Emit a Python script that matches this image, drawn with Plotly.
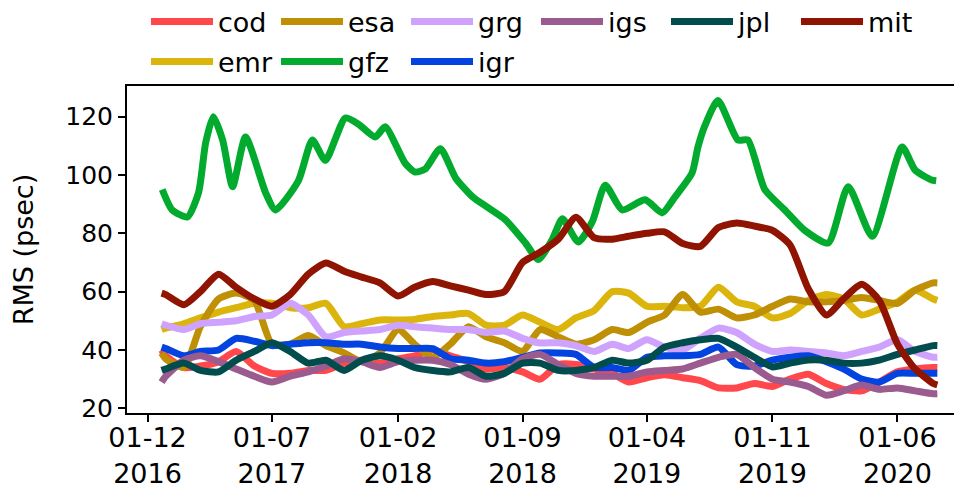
import plotly.graph_objects as go

# monthly sample dates (common to all series except gfz)
dates = ["2016-12-25", "2017-01-01", "2017-02-01", "2017-03-01", "2017-04-01", "2017-05-01",
         "2017-06-01", "2017-07-01", "2017-08-01", "2017-09-01", "2017-10-01", "2017-11-01",
         "2017-12-01", "2018-01-01", "2018-02-01", "2018-03-01", "2018-04-01", "2018-05-01",
         "2018-06-01", "2018-07-01", "2018-08-01", "2018-09-01", "2018-10-01", "2018-11-01",
         "2018-12-01", "2019-01-01", "2019-02-01", "2019-03-01", "2019-04-01", "2019-05-01",
         "2019-06-01", "2019-07-01", "2019-08-01", "2019-09-01", "2019-10-01", "2019-11-01",
         "2019-12-01", "2020-01-01", "2020-02-01", "2020-03-01", "2020-04-01", "2020-05-01",
         "2020-06-01", "2020-07-01", "2020-08-01", "2020-08-08"]

cod = [40, 38, 34, 34.5, 36, 39.5, 34.5, 32, 32, 33, 33, 35.5,
       36.5, 35.5, 37, 38, 40, 38, 36, 33.5, 34, 32.5, 30, 35,
       35, 33.5, 32, 29, 30.5, 31.5, 30.5, 29.5, 27, 27, 28.5, 27.5,
       30, 31.7, 28.5, 26.5, 26, 29, 32.5, 33.5, 34, 34]
emr = [47, 47.5, 49, 51, 53, 54.5, 56, 56, 54.5, 54.5, 56, 48,
       49, 50.3, 50.3, 50.5, 51.5, 52, 52.5, 48.5, 48.5, 52, 49.5, 47,
       51, 53.5, 60, 59.5, 55, 55, 54.5, 55, 61.5, 56.5, 55, 51,
       52.5, 57, 59, 57.5, 52, 54, 56.5, 60.5, 57.5, 57]
esa = [39, 37, 34, 48, 57.5, 59.5, 57, 42, 42, 45, 41.5, 39,
       36, 39, 47, 42, 37.5, 42, 48, 44.5, 42.5, 39.5, 47, 44.5,
       42, 43.5, 47, 46, 49.5, 52, 59, 53, 54, 51, 52, 55,
       57.5, 56.5, 56.5, 57, 58, 57, 56, 60.5, 63, 63]
grg = [49, 48.5, 47, 49, 49.5, 50, 51.5, 52, 56, 52, 44.5, 46,
       46.5, 47, 48.5, 48, 47.5, 47, 47, 46, 46.5, 44, 42.4, 42.5,
       41.5, 39.5, 42, 40.5, 43.5, 41, 40, 44, 47.5, 46, 42, 39.5,
       40, 39.5, 39, 38, 39.5, 41, 43.5, 39.5, 37.5, 37.5]
igr = [41, 40.5, 38, 39.5, 40, 44, 43, 41.5, 42, 42.5, 42.5, 42,
       42, 41, 40.5, 40.5, 40.5, 37, 36.5, 35.5, 36, 37.5, 39, 39,
       38.5, 34, 34, 33, 37.5, 38, 38, 38.5, 41, 35, 34.5, 36.5,
       37.5, 38, 36, 33.5, 30, 29, 32, 32, 32, 32]
igs = [29, 31, 36.5, 38, 36, 33.5, 31, 29, 31, 32.5, 34.5, 37,
       36, 34, 36, 36.5, 36.5, 35, 31.7, 30, 32, 37, 38.5, 35,
       32, 31, 31, 31, 32.5, 33, 33.5, 35.5, 37.5, 38.5, 34, 30,
       29, 27.5, 24.5, 26, 28, 26.5, 27, 26, 25, 25]
jpl = [33, 33.5, 35.5, 33, 32.5, 36.5, 39.5, 42.5, 39.5, 35.5, 36.5, 33,
       36.5, 38, 36.5, 34, 33, 32.5, 34, 31, 32, 35.5, 35.5, 33,
       33, 34, 36.5, 35.5, 36.5, 41, 42.5, 43.5, 44, 41, 37.5, 34.2,
       35.5, 36.6, 36.5, 35.5, 35.5, 36.5, 38.5, 40, 41.5, 41.5]
mit = [59.5, 59, 55.5, 60, 66, 61.5, 57.5, 55, 59, 66, 69.8, 67,
       65, 63, 58.5, 61.5, 63.5, 62, 60.5, 59, 60, 70, 73.5, 78,
       85.5, 78.5, 78, 79, 80, 80.5, 76.5, 75.5, 82, 83.5, 82.5, 81,
       76, 61, 52, 57.5, 62.5, 57, 42, 33.5, 28.5, 28]

# gfz is more volatile: its own sample dates
gfz_dates = ["2016-12-26", "2017-01-12", "2017-02-07", "2017-02-26", "2017-03-10", "2017-03-23",
             "2017-04-08", "2017-04-25", "2017-05-17", "2017-06-20", "2017-07-07", "2017-08-15",
             "2017-09-08", "2017-09-30", "2017-11-03", "2017-11-25", "2017-12-24", "2018-01-10",
             "2018-02-13", "2018-03-02", "2018-03-19", "2018-04-14", "2018-05-10", "2018-06-08",
             "2018-07-05", "2018-08-03", "2018-09-06", "2018-09-28", "2018-10-22", "2018-11-08",
             "2018-12-05", "2018-12-29", "2019-01-20", "2019-02-18", "2019-03-29", "2019-04-27",
             "2019-05-19", "2019-06-17", "2019-06-27", "2019-07-09", "2019-07-31", "2019-09-03",
             "2019-09-20", "2019-10-19", "2019-11-22", "2019-12-26", "2020-02-04", "2020-03-09",
             "2020-04-19", "2020-06-09", "2020-07-01", "2020-07-29", "2020-08-06"]
gfz = [95, 88, 85.6, 94, 111, 120, 112, 96, 113, 94, 88, 98,
       112, 105, 119.5, 117.5, 113, 116.5, 104, 101, 102, 109, 99, 92.5,
       88.7, 84.6, 76.7, 71, 78, 85, 77, 84, 96.5, 88, 91.5, 87,
       92.5, 100.7, 109.6, 117, 125.5, 112, 112, 95, 88, 81, 76.7, 96,
       79, 109.6, 101.7, 98.3, 98]

tick_dates = ["2016-12-01", "2017-07-01", "2018-02-01", "2018-09-01",
              "2019-04-01", "2019-11-01", "2020-06-01"]
y_ticks = [20, 40, 60, 80, 100, 120]

colors = {"cod": "#ff474c", "emr": "#dbb40c", "esa": "#bf9005", "gfz": "#02ab2e",
          "grg": "#cea2fd", "igr": "#0343df", "igs": "#9b5b8f", "jpl": "#014d4e",
          "mit": "#8f1402"}
row2 = {"emr", "gfz", "igr"}

series = [("cod", dates, cod), ("emr", dates, emr), ("esa", dates, esa),
          ("gfz", gfz_dates, gfz), ("grg", dates, grg), ("igr", dates, igr),
          ("igs", dates, igs), ("jpl", dates, jpl), ("mit", dates, mit)]

FONT = "DejaVu Sans"
W, H = 954, 478  # page body has an 8px margin inside the 962x486 window

fig = go.Figure()
for name, xs, ys in series:
    assert len(xs) == len(ys), name
    fig.add_trace(go.Scatter(
        x=xs, y=ys, name=name, mode="lines",
        line=dict(color=colors[name], width=7, shape="spline", smoothing=0.6),
        legend="legend2" if name in row2 else "legend",
    ))

leg_common = dict(orientation="h", xanchor="left", yanchor="middle",
                  xref="container", yref="container",
                  entrywidth=53, entrywidthmode="pixels", itemwidth=62,
                  font=dict(family=FONT, size=27, color="black"),
                  bgcolor="rgba(0,0,0,0)", tracegroupgap=0)

fig.update_layout(
    width=W, height=H,
    margin=dict(l=119, r=0, t=78, b=73, autoexpand=False),
    paper_bgcolor="white", plot_bgcolor="white",
    font=dict(family=FONT, size=25, color="black"),
    showlegend=True,
    legend=dict(x=138 / W, y=1 - 14 / H, **leg_common),
    legend2=dict(x=138 / W, y=1 - 54 / H, **leg_common),
    xaxis=dict(
        type="date", range=["2016-10-27", "2020-09-19"],
        tickvals=tick_dates, tickformat="%d-%m<br>%Y",
        showgrid=False, zeroline=False,
        showline=True, linecolor="black", linewidth=2, mirror=True,
        ticks="outside", ticklen=7, tickwidth=2, tickcolor="black",
        ticklabelstandoff=-7,
        tickfont=dict(family=FONT, size=27, color="black"),
    ),
    yaxis=dict(
        range=[18.4, 130.5], tickvals=y_ticks,
        showgrid=False, zeroline=False,
        showline=True, linecolor="black", linewidth=2,
        ticks="outside", ticklen=7, tickwidth=2, tickcolor="black",
        tickfont=dict(family=FONT, size=25, color="black"),
        title=dict(text="RMS (psec)", font=dict(family=FONT, size=27, color="black"), standoff=24),
    ),
)

fig.write_html("out.html")
